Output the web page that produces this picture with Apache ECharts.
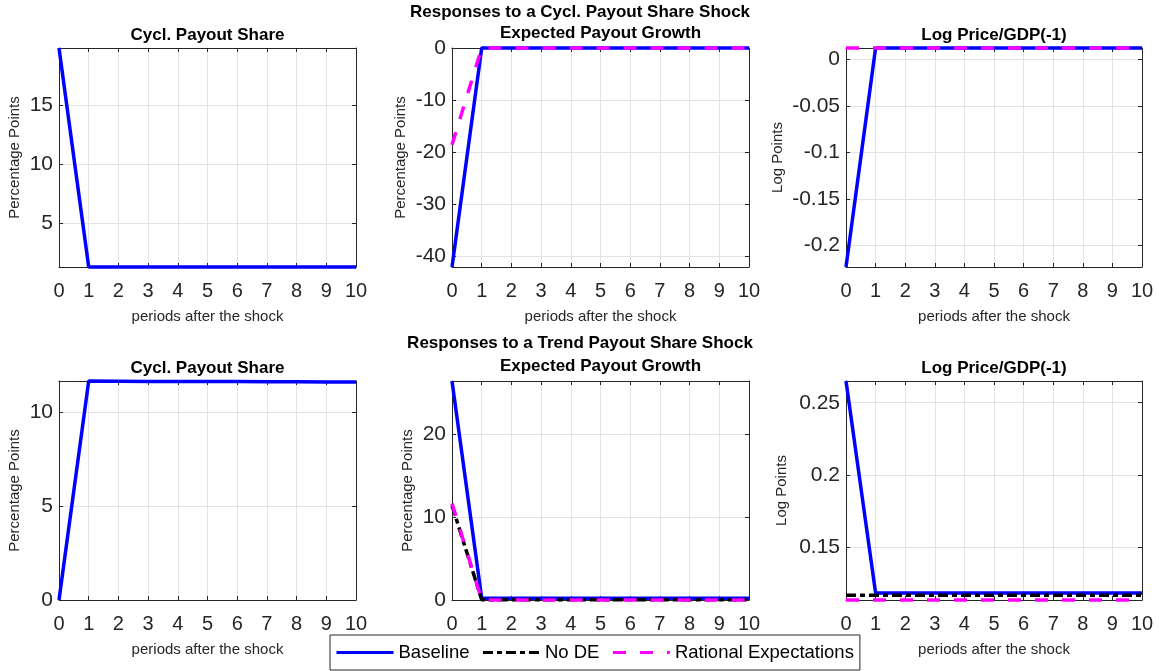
<!DOCTYPE html>
<html>
<head>
<meta charset="utf-8">
<title>Impulse responses</title>
<script src="https://cdn.jsdelivr.net/npm/echarts@6/dist/echarts.min.js"></script>
<style>
  html, body { margin: 0; padding: 0; background: #ffffff; }
  #chart { width: 1159px; height: 671px; }
</style>
</head>
<body>
<div id="chart"></div>
<script>
// Periods after the shock
const periods = [0, 1, 2, 3, 4, 5, 6, 7, 8, 9, 10];

// Responses to a cyclical payout share shock
const cyclShareBaseline  = [19.83, 1.27, 1.27, 1.27, 1.27, 1.27, 1.27, 1.27, 1.27, 1.27, 1.27];
const cyclGrowthBaseline = [-42.1, 0, 0, 0, 0, 0, 0, 0, 0, 0, 0];
const cyclGrowthRE       = [-18.6, 0, 0, 0, 0, 0, 0, 0, 0, 0, 0];
const cyclPriceBaseline  = [-0.223, 0.0121, 0.0121, 0.0121, 0.0121, 0.0121, 0.0121, 0.0121, 0.0121, 0.0121, 0.0121];
const cyclPriceRE        = [0.0121, 0.0121, 0.0121, 0.0121, 0.0121, 0.0121, 0.0121, 0.0121, 0.0121, 0.0121, 0.0121];

// Responses to a trend payout share shock
const trendShareBaseline  = [0, 11.65, 11.64, 11.63, 11.63, 11.62, 11.62, 11.61, 11.61, 11.60, 11.60];
const trendGrowthBaseline = [26.4, 0.2, 0.2, 0.2, 0.2, 0.2, 0.2, 0.2, 0.2, 0.2, 0.2];
const trendGrowthNoDE     = [11.4, 0.03, 0.03, 0.03, 0.03, 0.03, 0.03, 0.03, 0.03, 0.03, 0.03];
const trendGrowthRE       = [11.64, 0, 0, 0, 0, 0, 0, 0, 0, 0, 0];
const trendPriceBaseline  = [0.265, 0.1187, 0.1187, 0.1187, 0.1187, 0.1187, 0.1187, 0.1187, 0.1187, 0.1187, 0.1187];
const trendPriceNoDE      = [0.1171, 0.1171, 0.1171, 0.1171, 0.1171, 0.1171, 0.1171, 0.1171, 0.1171, 0.1171, 0.1171];
const trendPriceRE        = [0.1138, 0.1138, 0.1138, 0.1138, 0.1138, 0.1138, 0.1138, 0.1138, 0.1138, 0.1138, 0.1138];

// Y tick labels for each panel
const yTicks = [
  [5, 10, 15],
  [-40, -30, -20, -10, 0],
  [-0.2, -0.15, -0.1, -0.05, 0],
  [0, 5, 10],
  [0, 10, 20],
  [0.15, 0.2, 0.25]
];

const panelTitles = ['Cycl. Payout Share', 'Expected Payout Growth', 'Log Price/GDP(-1)',
                     'Cycl. Payout Share', 'Expected Payout Growth', 'Log Price/GDP(-1)'];
const rowTitles = ['Responses to a Cycl. Payout Share Shock', 'Responses to a Trend Payout Share Shock'];
const yNames = ['Percentage Points', 'Percentage Points', 'Log Points',
                'Percentage Points', 'Percentage Points', 'Log Points'];
const xName = 'periods after the shock';
const legendNames = ['Baseline', 'No DE', 'Rational Expectations'];

const SERIES_STYLE = {
  'Baseline': { color: '#0000ff', type: 'solid' },
  'No DE': { color: '#000000', type: [10, 4, 5, 4] },
  'Rational Expectations': { color: '#ff00ff', type: [13, 14] }
};

// Panel layout and the lines each one holds
const panels = [
  { grid: { left: 59,  top: 48,  width: 297, height: 219 }, nameGap: 37,
    lines: [['Baseline', cyclShareBaseline]] },
  { grid: { left: 452, top: 48,  width: 297, height: 219 }, nameGap: 44,
    lines: [['Baseline', cyclGrowthBaseline], ['Rational Expectations', cyclGrowthRE]] },
  { grid: { left: 846, top: 48,  width: 296, height: 219 }, nameGap: 61,
    lines: [['Baseline', cyclPriceBaseline], ['Rational Expectations', cyclPriceRE]] },
  { grid: { left: 59,  top: 381, width: 297, height: 219 }, nameGap: 37,
    lines: [['Baseline', trendShareBaseline]] },
  { grid: { left: 452, top: 381, width: 297, height: 219 }, nameGap: 37,
    lines: [['Baseline', trendGrowthBaseline], ['No DE', trendGrowthNoDE], ['Rational Expectations', trendGrowthRE]] },
  { grid: { left: 846, top: 381, width: 296, height: 219 }, nameGap: 57,
    lines: [['Baseline', trendPriceBaseline], ['No DE', trendPriceNoDE], ['Rational Expectations', trendPriceRE]] }
];

const FONT = 'Liberation Sans, Arial, Helvetica, sans-serif';
const AXIS_COLOR = '#262626';
const GRID_COLOR = '#e3e3e3';
const LINE_WIDTH = 3.5;

const grid = [], xAxis = [], yAxis = [], series = [], graphic = [];

panels.forEach((p, i) => {
  grid.push(Object.assign({ containLabel: false }, p.grid));

  // tight y range from the plotted data
  let lo = Infinity, hi = -Infinity;
  p.lines.forEach(([, vals]) => vals.forEach(v => { lo = Math.min(lo, v); hi = Math.max(hi, v); }));

  const baseX = {
    type: 'value', gridIndex: i, min: 0, max: 10, interval: 1,
    axisLine: { show: true, onZero: false, lineStyle: { color: AXIS_COLOR, width: 1 } },
    axisTick: { show: true, inside: true, length: 4, lineStyle: { color: AXIS_COLOR } }
  };
  xAxis.push(Object.assign({}, baseX, {
    position: 'bottom',
    name: xName, nameLocation: 'middle', nameGap: 42,
    nameTextStyle: { fontFamily: FONT, fontSize: 15, color: AXIS_COLOR },
    axisLabel: { fontFamily: FONT, fontSize: 20, color: AXIS_COLOR, margin: 14 },
    splitLine: { show: true, lineStyle: { color: GRID_COLOR, width: 1 } }
  }));
  xAxis.push(Object.assign({}, baseX, {
    position: 'top', axisLabel: { show: false }, splitLine: { show: false }
  }));

  const baseY = {
    type: 'value', gridIndex: i, min: lo, max: hi, scale: true,
    axisLine: { show: true, onZero: false, lineStyle: { color: AXIS_COLOR, width: 1 } },
    axisTick: { show: true, inside: true, length: 4, customValues: yTicks[i], lineStyle: { color: AXIS_COLOR } }
  };
  yAxis.push(Object.assign({}, baseY, {
    position: 'left',
    name: yNames[i], nameLocation: 'middle', nameGap: p.nameGap,
    nameTextStyle: { fontFamily: FONT, fontSize: 15, color: AXIS_COLOR },
    axisLabel: { fontFamily: FONT, fontSize: 21, color: AXIS_COLOR, margin: 6, customValues: yTicks[i] },
    splitLine: { show: true, lineStyle: { color: GRID_COLOR, width: 1 } }
  }));
  yAxis.push(Object.assign({}, baseY, {
    position: 'right', axisLabel: { show: false }, splitLine: { show: false }
  }));

  p.lines.forEach(([name, vals], k) => {
    const st = SERIES_STYLE[name];
    series.push({
      name: name, type: 'line',
      xAxisIndex: i * 2, yAxisIndex: i * 2,
      data: periods.map((t, j) => [t, vals[j]]),
      symbol: 'none', clip: false, z: 3 + k,
      lineStyle: { color: st.color, width: LINE_WIDTH, type: st.type, cap: 'butt' },
      itemStyle: { color: st.color },
      emphasis: { disabled: true },
      animation: false
    });
  });

  // panel title
  const g = p.grid;
  graphic.push({
    type: 'text', x: g.left + g.width / 2, y: g.top - (i % 3 === 1 ? 15 : 13),
    style: { text: panelTitles[i], font: 'bold 17px ' + FONT, fill: '#000000',
             textAlign: 'center', textVerticalAlign: 'middle' }
  });
});

// row headings
graphic.push({
  type: 'text', x: 580, y: 12,
  style: { text: rowTitles[0], font: 'bold 17px ' + FONT, fill: '#000000', textAlign: 'center', textVerticalAlign: 'middle' }
});
graphic.push({
  type: 'text', x: 580, y: 343,
  style: { text: rowTitles[1], font: 'bold 17px ' + FONT, fill: '#000000', textAlign: 'center', textVerticalAlign: 'middle' }
});

const chart = echarts.init(document.getElementById('chart'), null, { renderer: 'canvas' });
chart.setOption({
  backgroundColor: '#ffffff',
  animation: false,
  grid: grid,
  xAxis: xAxis,
  yAxis: yAxis,
  series: series,
  graphic: graphic,
  legend: {
    data: legendNames,
    left: 330, top: 635,
    orient: 'horizontal',
    padding: [8, 6, 8, 5],
    backgroundColor: '#ffffff',
    borderColor: AXIS_COLOR, borderWidth: 1,
    itemWidth: 57, itemHeight: 16, itemGap: 12,
    selectedMode: false,
    z: 20,
    itemStyle: { opacity: 0, color: 'rgba(0,0,0,0)', borderWidth: 0 },
    lineStyle: { width: 3 },
    textStyle: { fontFamily: FONT, fontSize: 18.5, color: '#000000' }
  }
});
</script>
</body>
</html>
